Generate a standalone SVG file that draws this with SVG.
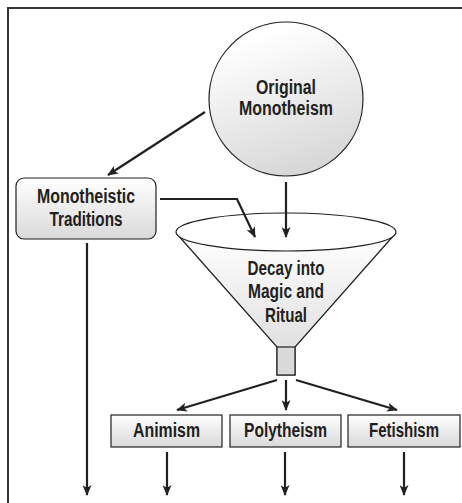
<svg xmlns="http://www.w3.org/2000/svg" width="462" height="503" viewBox="0 0 462 503">
<defs>
<linearGradient id="gBox" x1="0" y1="0" x2="0" y2="1">
<stop offset="0" stop-color="#ffffff"/><stop offset="1" stop-color="#d9d9d9"/>
</linearGradient>
<linearGradient id="gCirc" x1="0.3" y1="0.1" x2="0.6" y2="1">
<stop offset="0" stop-color="#ffffff"/><stop offset="1" stop-color="#d6d6d6"/>
</linearGradient>
<linearGradient id="gFun" x1="0" y1="0" x2="0" y2="1">
<stop offset="0" stop-color="#ffffff"/><stop offset="1" stop-color="#d9d9d9"/>
</linearGradient>
<marker id="ah" viewBox="0 0 12 10" refX="11" refY="5" markerWidth="12" markerHeight="9" markerUnits="userSpaceOnUse" orient="auto">
<path d="M0,0 L12,5 L0,10 L3,5 Z" fill="#222"/>
</marker>
</defs>
<style>
.lbl{font-family:"Liberation Sans Narrow","Arial Narrow","Liberation Sans",sans-serif;font-weight:bold;fill:#231f20;text-anchor:middle;}
.big{font-size:20px;}
.med{font-size:20px;}
.shape{stroke:#231f20;stroke-width:1.2;}
.conn{fill:none;stroke:#231f20;stroke-width:2.2;marker-end:url(#ah);}
</style>
<rect width="462" height="503" fill="#ffffff"/>
<rect x="8" y="8" width="470" height="510" fill="none" stroke="#333" stroke-width="2"/>

<g id="original">
<circle cx="286" cy="99" r="77" fill="url(#gCirc)" class="shape"/>
<text class="lbl big" x="286" y="94" textLength="60" lengthAdjust="spacingAndGlyphs">Original</text>
<text class="lbl big" x="286" y="115" textLength="94" lengthAdjust="spacingAndGlyphs">Monotheism</text>
</g>

<g id="traditions">
<rect x="16" y="178" width="140" height="61" rx="8" fill="url(#gBox)" class="shape"/>
<text class="lbl med" x="86" y="203" textLength="98" lengthAdjust="spacingAndGlyphs">Monotheistic</text>
<text class="lbl med" x="86" y="226" textLength="73" lengthAdjust="spacingAndGlyphs">Traditions</text>
</g>

<g id="funnel">
<path d="M177,234 L277,347 L277,375 L295,375 L295,347 L395,234 Z" fill="url(#gFun)" class="shape"/>
<rect x="277" y="347" width="18" height="28" fill="#d9d9d9" class="shape"/>
<ellipse cx="286" cy="232" rx="110" ry="19" fill="#ffffff" class="shape"/>
<text class="lbl med" x="286" y="275" textLength="77" lengthAdjust="spacingAndGlyphs">Decay into</text>
<text class="lbl med" x="286" y="298" textLength="76" lengthAdjust="spacingAndGlyphs">Magic and</text>
<text class="lbl med" x="286" y="322" textLength="42" lengthAdjust="spacingAndGlyphs">Ritual</text>
</g>

<g id="animism">
<rect x="111" y="415" width="111" height="32" fill="url(#gBox)" class="shape"/>
<text class="lbl med" x="166.5" y="437" textLength="67" lengthAdjust="spacingAndGlyphs">Animism</text>
</g>
<g id="polytheism">
<rect x="230" y="415" width="111" height="32" fill="url(#gBox)" class="shape"/>
<text class="lbl med" x="285.5" y="437" textLength="83" lengthAdjust="spacingAndGlyphs">Polytheism</text>
</g>
<g id="fetishism">
<rect x="348" y="415" width="112" height="32" fill="url(#gBox)" class="shape"/>
<text class="lbl med" x="404" y="437" textLength="70" lengthAdjust="spacingAndGlyphs">Fetishism</text>
</g>

<g id="connectors">
<path class="conn" d="M205,112 L108,175"/>
<path class="conn" d="M160,199 L237,199 L255,237"/>
<path class="conn" d="M286,182 L286,237"/>
<path class="conn" d="M87,243 L87,495"/>
<path class="conn" d="M277,380 L177,410"/>
<path class="conn" d="M286,380 L286,410"/>
<path class="conn" d="M296,380 L397,410"/>
<path class="conn" d="M167,452 L167,495"/>
<path class="conn" d="M285,452 L285,495"/>
<path class="conn" d="M404,452 L404,495"/>
</g>
</svg>
